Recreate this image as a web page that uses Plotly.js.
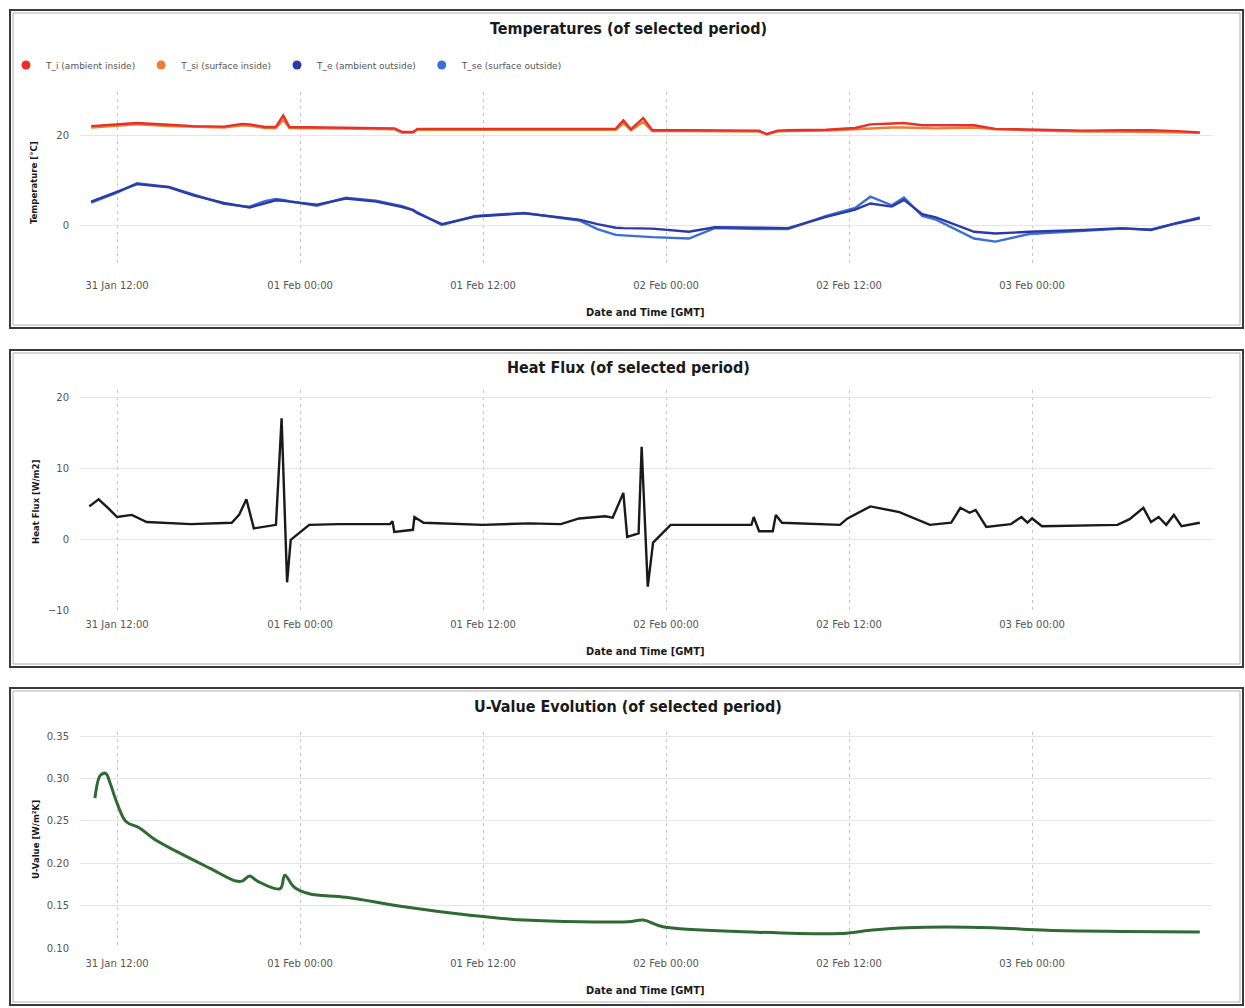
<!DOCTYPE html>
<html>
<head>
<meta charset="utf-8">
<script src="https://cdn.plot.ly/plotly-3.0.1.min.js"></script>
<style>
html,body{margin:0;padding:0;background:#fff;}
#chart{width:1245px;height:1008px;}
</style>
</head>
<body>
<div id="chart"></div>
<script>
// ---- DATA (hours relative to 31 Jan 12:00 GMT) ----
const startTime = '2017-01-31T12:00:00Z';

const tempHours = [-1.7, 0, 1.3, 3.4, 5, 7, 8.2, 8.7, 9.7, 10.4, 10.9, 11.3, 13.1, 15, 17, 18.2, 18.7, 19.4, 19.7, 21.3, 23.5, 26.7, 30.3, 31.5, 32.7, 33.2, 33.7, 34.5, 35.1, 37.5, 39.2, 42.1, 42.6, 43.3, 44, 46.5, 48.4, 49.4, 50.8, 51.6, 52.8, 53.7, 56.2, 57.6, 59.8, 63.4, 65.9, 67.8, 69.5, 71.0];

const T_i  = [22.0, 22.4, 22.7, 22.3, 22.0, 21.9, 22.5, 22.4, 21.8, 21.8, 24.4, 21.8, 21.7, 21.6, 21.5, 21.5, 20.7, 20.7, 21.4, 21.4, 21.3, 21.3, 21.3, 21.3, 21.4, 23.3, 21.3, 23.8, 21.1, 21.1, 21.1, 21.0, 20.2, 21.0, 21.1, 21.2, 21.6, 22.4, 22.6, 22.7, 22.2, 22.2, 22.2, 21.4, 21.2, 21.0, 21.1, 21.1, 20.9, 20.6];
const T_si = [21.7, 22.1, 22.4, 22.0, 21.8, 21.7, 22.2, 22.1, 21.6, 21.6, 23.4, 21.6, 21.5, 21.4, 21.3, 21.3, 20.6, 20.6, 21.2, 21.2, 21.1, 21.1, 21.1, 21.1, 21.2, 22.6, 21.1, 22.9, 20.9, 20.9, 20.9, 20.8, 20.2, 20.8, 20.9, 21.0, 21.3, 21.5, 21.7, 21.7, 21.5, 21.5, 21.7, 21.3, 21.1, 20.8, 20.8, 20.7, 20.7, 20.5];
const T_e  = [5.2, 7.4, 9.1, 8.4, 6.6, 4.9, 4.1, 3.9, 4.8, 5.5, 5.4, 5.2, 4.5, 5.9, 5.2, 4.4, 4.0, 3.3, 2.6, 0.2, 1.9, 2.6, 1.2, 0.2, -0.6, -0.7, -0.7, -0.7, -0.8, -1.5, -0.5, -0.6, -0.6, -0.7, -0.7, 1.8, 3.4, 4.8, 4.1, 5.6, 2.4, 1.7, -1.5, -1.9, -1.5, -1.1, -0.7, -1.1, 0.4, 1.5];
const T_se = [5.0, 7.2, 9.3, 8.5, 6.8, 4.7, 4.2, 4.1, 5.3, 5.8, 5.6, 5.3, 4.3, 6.1, 5.4, 4.6, 4.2, 3.4, 2.8, 0.0, 2.0, 2.7, 1.0, -0.9, -2.2, -2.3, -2.4, -2.6, -2.7, -3.0, -0.7, -0.9, -0.9, -1.0, -0.9, 2.0, 3.8, 6.3, 4.4, 6.1, 2.0, 1.2, -3.0, -3.7, -2.0, -1.3, -0.8, -1.0, 0.5, 1.7];

const fluxHours = [-1.82, -1.21, -0.6, 0, 0.97, 1.94, 4.85, 7.52, 8.0, 8.48, 8.97, 10.42, 10.79, 11.15, 11.39, 12.6, 14.5, 17.9, 18.06, 18.18, 19.4, 19.5, 20.1, 24.0, 27.0, 29.1, 30.3, 32.0, 32.5, 33.2, 33.45, 34.2, 34.4, 34.8, 35.15, 36.3, 41.6, 41.75, 42.1, 43.0, 43.2, 43.6, 47.4, 47.9, 49.4, 51.3, 53.3, 54.7, 55.3, 55.9, 56.3, 57.0, 58.6, 59.3, 59.7, 60.0, 60.65, 65.6, 66.4, 67.3, 67.8, 68.3, 68.8, 69.3, 69.8, 71.0];
const heatFlux  = [4.6, 5.6, 4.4, 3.1, 3.4, 2.4, 2.1, 2.3, 3.4, 5.6, 1.5, 2.0, 17.0, -6.1, -0.1, 2.0, 2.1, 2.1, 2.5, 1.0, 1.3, 3.1, 2.3, 2.0, 2.2, 2.1, 2.9, 3.2, 3.0, 6.5, 0.3, 0.8, 13.0, -6.7, -0.5, 2.0, 2.0, 3.1, 1.1, 1.1, 3.4, 2.3, 2.0, 2.9, 4.6, 3.8, 2.0, 2.3, 4.4, 3.7, 4.1, 1.7, 2.1, 3.1, 2.3, 2.9, 1.8, 2.0, 2.8, 4.4, 2.4, 3.1, 2.0, 3.4, 1.8, 2.3];

const uHours  = [-1.45, -1.09, -0.73, -0.48, 0, 0.6, 1.45, 2.4, 3.9, 6.1, 7.8, 8.2, 8.7, 9.2, 10.7, 11.0, 11.6, 12.6, 15.0, 18.7, 23.0, 26.7, 33.5, 34.5, 35.8, 41.6, 47.4, 49.4, 51.8, 57.4, 61.0, 71.0];
const uValue  = [0.277, 0.304, 0.306, 0.296, 0.271, 0.249, 0.242, 0.229, 0.214, 0.194, 0.179, 0.179, 0.185, 0.179, 0.170, 0.186, 0.172, 0.164, 0.160, 0.149, 0.139, 0.133, 0.131, 0.133, 0.125, 0.119, 0.117, 0.121, 0.124, 0.124, 0.121, 0.119];

const seriesNames = ['T_i (ambient inside)', 'T_si (surface inside)', 'T_e (ambient outside)', 'T_se (surface outside)'];
const seriesColors = ['#e4322b', '#f07d2e', '#2c3aa6', '#3b6fd3'];

const panelTitles = ['Temperatures (of selected period)', 'Heat Flux (of selected period)', 'U-Value Evolution (of selected period)'];
const yTitles = ['Temperature [°C]', 'Heat Flux [W/m2]', 'U-Value [W/m²K]'];
const xTitle = 'Date and Time [GMT]';

// ---- helpers ----
const t0 = new Date(startTime).getTime();
function toDate(h){
  const d = new Date(t0 + h*3600000);
  return d.toISOString().replace('T',' ').slice(0,19);
}
const W = 1245, H = 1008;
const px = x => x / W;
const py = y => 1 - y / H;

const tx = tempHours.map(toDate);
const fx = fluxHours.map(toDate);
const ux = uHours.map(toDate);

const tempSeries = [T_i, T_si, T_e, T_se];
const traces = [];
[3,2,1,0].forEach(i => {
  traces.push({x: tx, y: tempSeries[i], type: 'scatter', mode: 'lines', xaxis: 'x', yaxis: 'y',
    line: {color: seriesColors[i], width: 2.4}, showlegend: false, name: seriesNames[i]});
});
[0,1,2,3].forEach(i => {
  traces.push({x: [null], y: [null], type: 'scatter', mode: 'markers', xaxis: 'x', yaxis: 'y',
    marker: {color: seriesColors[i], size: 9, symbol: 'circle'}, name: seriesNames[i], showlegend: true});
});
traces.push({x: fx, y: heatFlux, type: 'scatter', mode: 'lines', xaxis: 'x2', yaxis: 'y2',
  line: {color: '#1a1a1a', width: 2.4}, showlegend: false, name: 'Heat Flux'});
traces.push({x: ux, y: uValue, type: 'scatter', mode: 'lines', xaxis: 'x3', yaxis: 'y3',
  line: {color: '#2f6a34', width: 3, shape: 'spline'}, showlegend: false, name: 'U-Value'});

const xRange = [toDate(-2.43), toDate(71.8)];
const xDomain = [px(80), px(1212)];
function xAxis(anchor, standoff){
  return {
    type: 'date', range: xRange, domain: xDomain, anchor: anchor,
    tick0: '2017-01-31 00:00:00', dtick: 43200000, tickformat: '%d %b %H:%M',
    showgrid: true, gridcolor: '#c4c4c4', griddash: '3px,4px', gridwidth: 1,
    zeroline: false, showline: false, ticks: '',
    ticklabelstandoff: standoff,
    tickfont: {family: 'DejaVu Sans', size: 10, color: '#555'}
  };
}
function yAxis(anchor, domain, range, dtick, fmt){
  return {
    domain: domain, range: range, dtick: dtick, anchor: anchor, tickformat: fmt,
    showgrid: true, gridcolor: '#e6e6e6', gridwidth: 1, zeroline: false, showline: false, ticks: '',
    ticklabelstandoff: 10,
    tickfont: {family: 'DejaVu Sans', size: 10, color: '#555'}
  };
}

const panels = [[10, 328], [350, 667], [688, 1005]];
const shapes = [];
panels.forEach(p => {
  shapes.push({type: 'rect', xref: 'paper', yref: 'paper', x0: px(10), x1: px(1243), y0: py(p[1]), y1: py(p[0]),
    line: {color: '#3a3a3a', width: 2}, fillcolor: 'rgba(0,0,0,0)', layer: 'below'});
  shapes.push({type: 'rect', xref: 'paper', yref: 'paper', x0: px(13), x1: px(1240), y0: py(p[1]-3), y1: py(p[0]+3),
    line: {color: '#b0b0b0', width: 1}, fillcolor: 'rgba(0,0,0,0)', layer: 'below'});
});

const annotations = [];
const titleY = [28, 367, 706];
panelTitles.forEach((t, i) => {
  annotations.push({text: '<b>' + t + '</b>', xref: 'paper', yref: 'paper', x: px(628), y: py(titleY[i]),
    xanchor: 'center', yanchor: 'middle', showarrow: false,
    font: {family: 'DejaVu Sans Condensed, DejaVu Sans', size: 16, color: '#1a1a1a'}});
});
const xtY = [312, 651, 990];
xtY.forEach(y => {
  annotations.push({text: '<b>' + xTitle + '</b>', xref: 'paper', yref: 'paper', x: px(645), y: py(y),
    xanchor: 'center', yanchor: 'middle', showarrow: false,
    font: {family: 'DejaVu Sans Condensed, DejaVu Sans', size: 11, color: '#1a1a1a'}});
});
const ytPos = [[33, 183], [35, 502], [35, 840]];
yTitles.forEach((t, i) => {
  annotations.push({text: '<b>' + t + '</b>', xref: 'paper', yref: 'paper', x: px(ytPos[i][0]), y: py(ytPos[i][1]),
    xanchor: 'center', yanchor: 'middle', showarrow: false, textangle: -90,
    font: {family: 'DejaVu Sans Condensed, DejaVu Sans', size: 9.5, color: '#1a1a1a'}});
});

const layout = {
  width: W, height: H,
  margin: {l: 0, r: 0, t: 0, b: 0},
  paper_bgcolor: '#ffffff', plot_bgcolor: '#ffffff',
  showlegend: true,
  legend: {orientation: 'h', x: px(6), y: py(65), xanchor: 'left', yanchor: 'middle',
    font: {family: 'DejaVu Sans', size: 9, color: '#555'}, itemwidth: 30, bgcolor: 'rgba(0,0,0,0)',
    tracegroupgap: 0, itemclick: false},
  xaxis: xAxis('y', 13),
  xaxis2: xAxis('y2', 7),
  xaxis3: xAxis('y3', 8),
  yaxis: yAxis('x', [py(265), py(92)], [-8.9, 29.6], 20, ''),
  yaxis2: yAxis('x2', [py(610), py(390)], [-10, 21], 10, ''),
  yaxis3: yAxis('x3', [py(948), py(732)], [0.10, 0.355], 0.05, '.2f'),
  shapes: shapes,
  annotations: annotations
};

Plotly.newPlot('chart', traces, layout, {displayModeBar: false, staticPlot: true});
</script>
</body>
</html>
